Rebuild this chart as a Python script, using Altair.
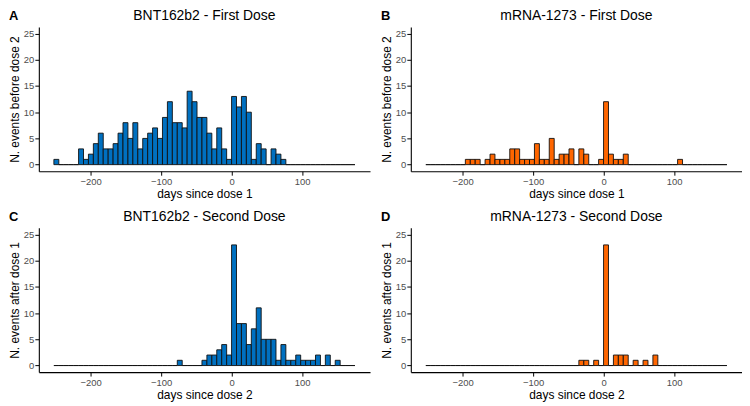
import altair as alt
import pandas as pd

# histogram bins: 7-day bins from -252 to 175
bin_starts = list(range(-252, 175, 7))
bin_ends = [s + 7 for s in bin_starts]

# counts per bin (61 bins each)
bnt_first = [1, 0, 0, 0, 0,
             3, 1, 2, 4, 6, 3, 3, 4, 6, 8, 5, 8, 3, 5, 6, 7, 5, 9, 12, 8, 8, 7, 14, 12, 9, 9, 6, 3, 7, 3, 1,
             13, 11, 13, 10, 1, 4, 3, 0, 3, 2, 1,
             0, 0, 0, 0, 0, 0, 0, 0, 0, 0, 0, 0, 0, 0]
mrna_first = [0, 0, 0, 0, 0, 0, 0, 0,
              1, 1, 1, 0, 1, 2, 1, 1, 1, 3, 3, 1, 1, 1, 4, 1, 1, 5, 1, 2, 2, 3, 0, 3, 2, 0, 0, 1,
              12, 2, 1, 1, 2,
              0, 0, 0, 0, 0, 0, 0, 0, 0, 0,
              1,
              0, 0, 0, 0, 0, 0, 0, 0, 0]
bnt_second = [0] * 25 + [1, 0, 0, 0, 0,
                         1, 2, 2, 3, 4, 2, 23, 8, 8, 4, 7, 11, 5, 5, 5, 1, 4, 1, 1, 2, 1, 1, 1, 2, 0, 2, 0, 1,
                         0, 0, 0]
mrna_second = [0] * 31 + [1, 1, 0, 1, 0, 23, 0, 2, 2, 2, 0, 1, 0, 1, 0, 2] + [0] * 14

titles = ["BNT162b2 - First Dose", "mRNA-1273 - First Dose",
          "BNT162b2 - Second Dose", "mRNA-1273 - Second Dose"]
letters = ["A", "B", "C", "D"]
y_titles = ["N. events before dose 2", "N. events after dose 1"]
x_titles = ["days since dose 1", "days since dose 2"]
x_ticks = [-200, -100, 0, 100]
y_ticks = [0, 5, 10, 15, 20, 25]

BLUE = "#0070C0"
ORANGE = "#FF6600"
FONT = "Liberation Sans"
W, H = 333, 145


def panel(counts, color, title, letter, ytitle, xtitle):
    df = pd.DataFrame({"start": bin_starts, "end": bin_ends, "count": counts})
    bars = alt.Chart(df).mark_rect(color=color, stroke="#111111", strokeWidth=0.9).encode(
        x=alt.X("start:Q",
                scale=alt.Scale(domain=[-273.35, 196.35], nice=False, zero=False),
                axis=alt.Axis(values=x_ticks, title=xtitle, format="d")),
        x2="end:Q",
        y=alt.Y("count:Q",
                scale=alt.Scale(domain=[-1.25, 26.25], nice=False, zero=False),
                axis=alt.Axis(values=y_ticks, title=ytitle)),
        y2=alt.datum(0),
    )
    txt = pd.DataFrame({"letter": [letter], "title": [title]})
    lab = alt.Chart(txt).mark_text(
        font=FONT, fontSize=13, fontWeight="bold", align="left", baseline="alphabetic", color="black"
    ).encode(text="letter:N", x=alt.value(-30), y=alt.value(-7))
    ttl = alt.Chart(txt).mark_text(
        font=FONT, fontSize=14, align="center", baseline="alphabetic", color="black"
    ).encode(text="title:N", x=alt.value(W / 2), y=alt.value(-7))
    return alt.layer(bars, lab, ttl).properties(width=W, height=H)


top = alt.hconcat(
    panel(bnt_first, BLUE, titles[0], letters[0], y_titles[0], x_titles[0]),
    panel(mrna_first, ORANGE, titles[1], letters[1], y_titles[0], x_titles[0]),
    spacing=10,
)
bottom = alt.hconcat(
    panel(bnt_second, BLUE, titles[2], letters[2], y_titles[1], x_titles[1]),
    panel(mrna_second, ORANGE, titles[3], letters[3], y_titles[1], x_titles[1]),
    spacing=10,
)

chart = alt.vconcat(top, bottom, spacing=10).properties(padding=0).configure_view(
    stroke=None
).configure_axis(
    grid=False,
    domainColor="black", domainWidth=1.1,
    tickColor="black", tickSize=4, tickWidth=1,
    labelColor="#4D4D4D", labelFont=FONT, labelFontSize=9.5, labelPadding=1,
    titleColor="black", titleFont=FONT, titleFontSize=12, titleFontWeight="normal",
).configure_axisY(titlePadding=2).configure_axisX(titlePadding=3)

chart.save("out.html", embed_options={"renderer": "svg", "actions": False})
